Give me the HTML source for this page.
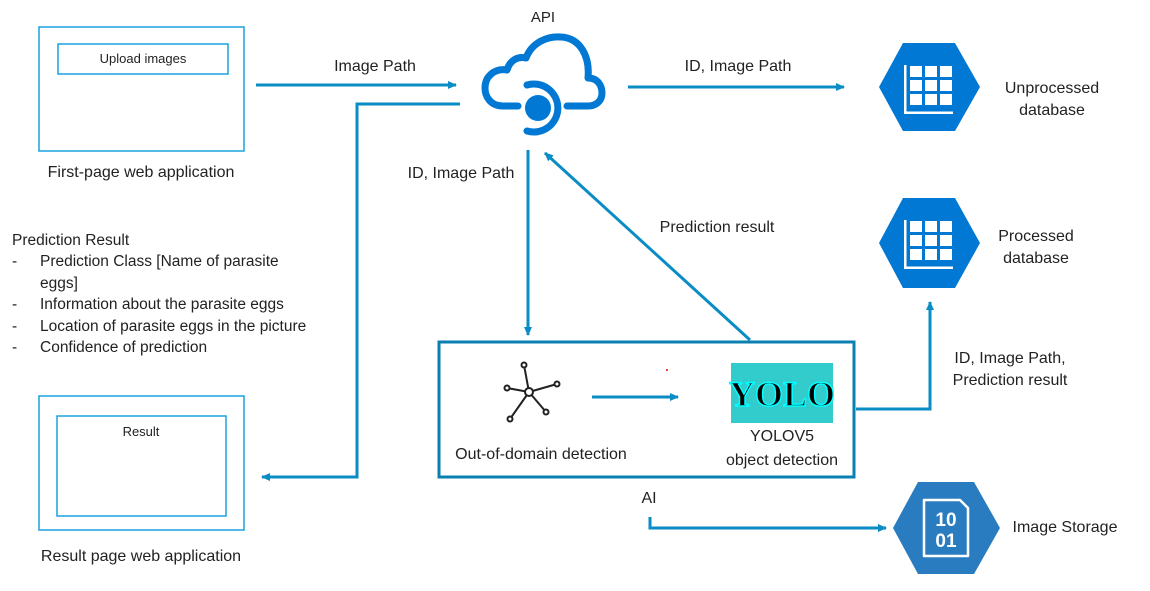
<!DOCTYPE html>
<html><head><meta charset="utf-8"><style>
html,body{margin:0;padding:0;background:#fff;}
svg{display:block;}
text{font-family:"Liberation Sans","DejaVu Sans",sans-serif;fill:#222;}
</style></head><body>
<svg width="1150" height="591" viewBox="0 0 1150 591" xmlns="http://www.w3.org/2000/svg">
<defs>
<marker id="ah" markerWidth="10" markerHeight="10" refX="8" refY="5" orient="auto" markerUnits="userSpaceOnUse">
<path d="M0,1 L9,5 L0,9 Z" fill="#0a8cc4"/></marker>
</defs>
<rect x="39" y="27" width="205" height="124" fill="none" stroke="#1aa3e0" stroke-width="1.5"/>
<rect x="58" y="44" width="170" height="30" fill="none" stroke="#1aa3e0" stroke-width="1.5"/>
<text x="143" y="63" font-size="13" text-anchor="middle">Upload images</text>
<text x="141" y="177" font-size="16" text-anchor="middle">First-page web application</text>
<rect x="39" y="396" width="205" height="134" fill="none" stroke="#1aa3e0" stroke-width="1.5"/>
<rect x="57" y="416" width="169" height="100" fill="none" stroke="#1aa3e0" stroke-width="1.5"/>
<text x="141" y="436" font-size="13" text-anchor="middle">Result</text>
<text x="141" y="561" font-size="16" text-anchor="middle">Result page web application</text>
<g font-size="15.5">
<text x="12" y="245">Prediction Result</text>
<text x="12" y="266">-</text><text x="40" y="266">Prediction Class [Name of parasite</text>
<text x="40" y="288">eggs]</text>
<text x="12" y="309">-</text><text x="40" y="309">Information about the parasite eggs</text>
<text x="12" y="331">-</text><text x="40" y="331">Location of parasite eggs in the picture</text>
<text x="12" y="352">-</text><text x="40" y="352">Confidence of prediction</text>
</g>
<g stroke="#0a8cc4" stroke-width="3" fill="none">
<line x1="256" y1="85" x2="456" y2="85" marker-end="url(#ah)"/>
<line x1="628" y1="87" x2="844" y2="87" marker-end="url(#ah)"/>
<polyline points="460,104 357,104 357,477 262,477" marker-end="url(#ah)"/>
<line x1="528" y1="150" x2="528" y2="335" marker-end="url(#ah)"/>
<line x1="750" y1="340" x2="545" y2="153" marker-end="url(#ah)"/>
<polyline points="856,409 930,409 930,302" marker-end="url(#ah)"/>
<polyline points="650,517 650,528 886,528" marker-end="url(#ah)"/>
<line x1="592" y1="397" x2="678" y2="397" marker-end="url(#ah)"/>
</g>
<g font-size="16">
<text x="375" y="71" text-anchor="middle">Image Path</text>
<text x="738" y="71" text-anchor="middle">ID, Image Path</text>
<text x="543" y="22" text-anchor="middle" font-size="15">API</text>
<text x="461" y="178" text-anchor="middle">ID, Image Path</text>
<text x="717" y="232" text-anchor="middle">Prediction result</text>
<text x="1010" y="363" text-anchor="middle">ID, Image Path,</text>
<text x="1010" y="385" text-anchor="middle">Prediction result</text>
<text x="649" y="503" text-anchor="middle">AI</text>
<text x="1052" y="93" text-anchor="middle">Unprocessed</text>
<text x="1052" y="115" text-anchor="middle">database</text>
<text x="1036" y="241" text-anchor="middle">Processed</text>
<text x="1036" y="263" text-anchor="middle">database</text>
<text x="1065" y="532" text-anchor="middle">Image Storage</text>
</g>
<g stroke="#0078d4" stroke-width="7" fill="none" stroke-linecap="round" stroke-linejoin="round">
<path d="M518,106 H503 C490,106 485,96 485,88 C485,76 495,68 507,70 C510,60 518,56 526,58 C532,42 548,36 561,37 C580,38 590,56 588,78 C598,78 602,86 602,93 C602,101 596,106 588,106 H567"/>
<path d="M527,85 A24,24 0 1 1 527,131"/>
</g>
<circle cx="538" cy="108" r="13" fill="#0078d4"/>
<rect x="439" y="342" width="415" height="135" fill="none" stroke="#0a7fb0" stroke-width="3"/>
<g stroke="#222" stroke-width="2" fill="#fff">
<line x1="529" y1="392" x2="524" y2="365"/><line x1="529" y1="392" x2="557" y2="384"/>
<line x1="529" y1="392" x2="507" y2="388"/><line x1="529" y1="392" x2="546" y2="412"/>
<line x1="529" y1="392" x2="510" y2="419"/>
<circle cx="529" cy="392" r="4"/><circle cx="524" cy="365" r="2.5"/><circle cx="557" cy="384" r="2.5"/>
<circle cx="507" cy="388" r="2.5"/><circle cx="546" cy="412" r="2.5"/><circle cx="510" cy="419" r="2.5"/>
</g>
<circle cx="667" cy="370" r="1" fill="#e00"/>
<text x="541" y="459" font-size="16" text-anchor="middle">Out-of-domain detection</text>
<rect x="731" y="363" width="102" height="60" fill="#33cccc"/>
<text x="782" y="406" font-size="36" font-weight="bold" text-anchor="middle" style="fill:#000;stroke:#00ffff;stroke-width:1.5;font-family:'Liberation Serif',serif">YOLO</text>
<text x="782" y="441" font-size="16" text-anchor="middle">YOLOV5</text>
<text x="782" y="465" font-size="16" text-anchor="middle">object detection</text>
<polygon points="879,87 903,43 955,43 980,87 955,131 903,131" fill="#0078d4"/>
<polygon points="879,243 903,198 955,198 980,243 955,288 903,288" fill="#0078d4"/>
<g fill="#fff">
<g>
<rect x="904" y="65" width="2.5" height="49"/><rect x="904" y="111.5" width="49" height="2.5"/>
<rect x="910" y="66" width="12" height="11"/><rect x="925" y="66" width="12" height="11"/><rect x="940" y="66" width="12" height="11"/>
<rect x="910" y="80" width="12" height="11"/><rect x="925" y="80" width="12" height="11"/><rect x="940" y="80" width="12" height="11"/>
<rect x="910" y="94" width="12" height="11"/><rect x="925" y="94" width="12" height="11"/><rect x="940" y="94" width="12" height="11"/>
</g>
<g transform="translate(0,155)">
<rect x="904" y="65" width="2.5" height="49"/><rect x="904" y="111.5" width="49" height="2.5"/>
<rect x="910" y="66" width="12" height="11"/><rect x="925" y="66" width="12" height="11"/><rect x="940" y="66" width="12" height="11"/>
<rect x="910" y="80" width="12" height="11"/><rect x="925" y="80" width="12" height="11"/><rect x="940" y="80" width="12" height="11"/>
<rect x="910" y="94" width="12" height="11"/><rect x="925" y="94" width="12" height="11"/><rect x="940" y="94" width="12" height="11"/>
</g>
</g>
<polygon points="893,528 918,482 974,482 1000,528 974,574 918,574" fill="#2a7cc0"/>
<path d="M924,500 L960,500 L968,508 L968,556 L924,556 Z" fill="none" stroke="#fff" stroke-width="2.5" stroke-linejoin="round"/>
<text x="946" y="526" font-size="19" font-weight="bold" text-anchor="middle" style="fill:#fff">10</text>
<text x="946" y="547" font-size="19" font-weight="bold" text-anchor="middle" style="fill:#fff">01</text>
</svg>
</body></html>
